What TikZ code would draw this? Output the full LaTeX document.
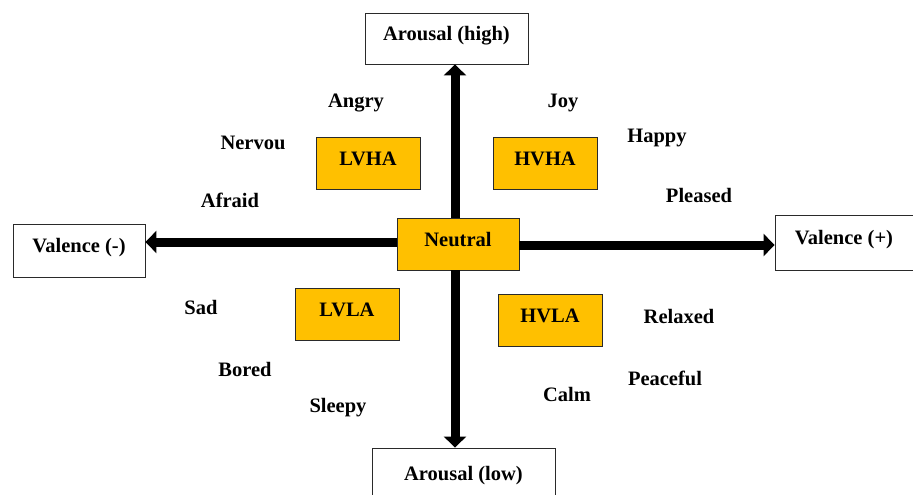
\documentclass[tikz,border=0pt]{standalone}
\usepackage{fontspec}
\setmainfont{Liberation Serif}
\usetikzlibrary{arrows.meta}
\definecolor{boxorange}{HTML}{FFC000}
\definecolor{boxedge}{HTML}{2A2A2A}
\begin{document}
\begin{tikzpicture}[x=1pt,y=-1pt,
  every node/.style={font=\fontsize{20.5}{24}\selectfont\bfseries},
  axisbox/.style={draw=boxedge, line width=0.9pt, fill=white, inner sep=0pt, text height=14pt, text depth=10pt},
  quadbox/.style={draw=boxedge, line width=0.9pt, fill=boxorange, inner sep=0pt, minimum width=104pt, minimum height=52pt, text height=14pt, text depth=10pt},
  emo/.style={inner sep=0pt},
  bigarrow/.style={line width=9pt, -{Triangle[length=11pt,width=22pt]}, shorten >=0pt}
]
\useasboundingbox (0,0) rectangle (913,495);
% axis boxes
\node[axisbox, minimum width=163pt, minimum height=51pt] (ahigh) at (446.5,38.5) {Arousal (high)};
\node[axisbox, minimum width=132pt, minimum height=53pt] (vneg) at (79,250.5) {Valence (-)};
\node[axisbox, minimum width=138pt, minimum height=55pt] (vpos) at (844,242.5) {Valence (+)};
\node[axisbox, minimum width=183pt, minimum height=60pt] (alow) at (463.5,478) {Arousal (low)};
% neutral and quadrants
\node[quadbox, minimum width=122pt] (neutral) at (458,244) {Neutral};
\node[quadbox] (lvha) at (368,163) {LVHA};
\node[quadbox] (hvha) at (545,163) {HVHA};
\node[quadbox] (lvla) at (347,314) {LVLA};
\node[quadbox] (hvla) at (550,320) {HVLA};
% arrows
\draw[bigarrow] ([xshift=-3pt]neutral.north) -- ([xshift=-3pt]neutral.north |- ahigh.south);
\draw[bigarrow] ([xshift=-3pt]neutral.south) -- ([xshift=-3pt]neutral.south |- alow.north);
\draw[bigarrow] ([yshift=2pt]neutral.west) -- ([yshift=2pt]neutral.west -| vneg.east);
\draw[bigarrow] ([yshift=-1pt]neutral.east) -- ([yshift=-1pt]neutral.east -| vpos.west);
% emotion words
\node[emo] (angry) at (356,103) {Angry};
\node[emo] (joy) at (563,103) {Joy};
\node[emo] (nervou) at (253,143) {Nervou};
\node[emo] (happy) at (657,138) {Happy};
\node[emo] (afraid) at (230,200) {Afraid};
\node[emo] (pleased) at (699,195) {Pleased};
\node[emo] (sad) at (201,307) {Sad};
\node[emo] (relaxed) at (679,316) {Relaxed};
\node[emo] (bored) at (245,369) {Bored};
\node[emo] (peaceful) at (665,378) {Peaceful};
\node[emo] (sleepy) at (338,408) {Sleepy};
\node[emo] (calm) at (567,394) {Calm};
\end{tikzpicture}
\end{document}
